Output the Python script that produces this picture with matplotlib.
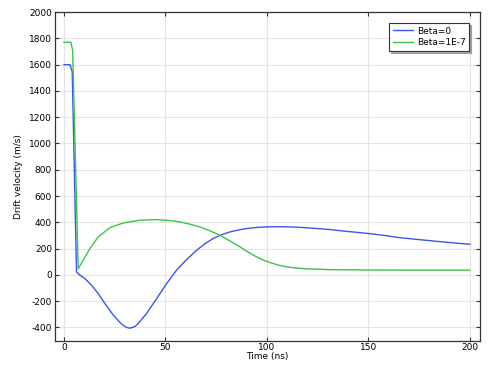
import matplotlib
matplotlib.use("Agg")
import matplotlib.pyplot as plt

plt.rcParams["axes.unicode_minus"] = False

# Beta=0 curve
t_beta0 = [0, 3.0, 4.1, 6.2, 7.9, 10.3, 13.6, 16.9, 20.2, 24.3, 27.6, 29.5, 30.9,
           32.2, 33.5, 35.0, 36.6, 40.7, 45.7, 50.6, 55.5, 60.0, 65.4, 69.5, 73.5,
           77.5, 81.8, 86.0, 90.0, 95.0, 99.8, 105, 111.3, 116, 122.8, 131, 140,
           150, 158, 165.5, 174, 181.9, 190, 200]
v_beta0 = [1600, 1600, 1545, 23, -2, -28, -78, -142, -218, -306, -362, -388, -400,
           -405, -402, -392, -370, -294, -180, -66, 36, 110, 188, 237, 277,
           305, 327, 342, 353, 361, 365, 367, 365, 362, 355, 345, 330,
           315, 300, 283, 270, 258, 246, 233]

# Beta=1E-7 curve
t_beta1 = [0, 3.4, 4.3, 7.05, 9.5, 12.8, 16.9, 22.7, 29.2, 37.4, 45.7, 53.8, 57.1,
           62.0, 67.0, 72.0, 76.8, 81.8, 86.7, 90.8, 94.9, 98.2, 101.5, 105.5,
           109.7, 114.5, 119.5, 125, 131, 150, 175, 200]
v_beta1 = [1770, 1770, 1710, 47, 112, 200, 289, 360, 395, 416, 421, 411, 403,
           386, 365, 335, 302, 258, 213, 173, 137, 113, 94, 75,
           61, 52, 46, 43, 40, 37, 36, 36]

fig = plt.figure(figsize=(4.98, 3.78), dpi=100)
ax = fig.add_axes([0.110, 0.099, 0.854, 0.869])

ax.plot(t_beta0, v_beta0, color="#3a55f0", lw=1.0, label="Beta=0")
ax.plot(t_beta1, v_beta1, color="#3cc44a", lw=1.0, label="Beta=1E-7")

ax.set_xlim(-4.5, 205)
ax.set_ylim(-500, 2000)
ax.set_xticks([0, 50, 100, 150, 200])
ax.set_yticks(range(-400, 2001, 200))
ax.grid(True, color="#e4e4e4", lw=0.8)
ax.tick_params(direction="in", top=True, right=True, labelsize=6.5,
               length=3, color="#333333", pad=2)
for s in ax.spines.values():
    s.set_color("#333333")
    s.set_linewidth(0.9)

ax.set_xlabel("Time (ns)", fontsize=6.5, labelpad=0)
ax.set_ylabel("Drift velocity (m/s)", fontsize=6.5, labelpad=4)

leg = ax.legend(loc="upper right", fontsize=6.5, fancybox=False, framealpha=1,
                edgecolor="#333333", handlelength=2.3, handletextpad=0.4,
                borderaxespad=1.2, borderpad=0.4, labelspacing=0.3,
                shadow={"ox": 1.5, "oy": -1.5, "color": "#666666"})
leg.get_frame().set_linewidth(0.8)

fig.savefig("out.png", dpi=100)
